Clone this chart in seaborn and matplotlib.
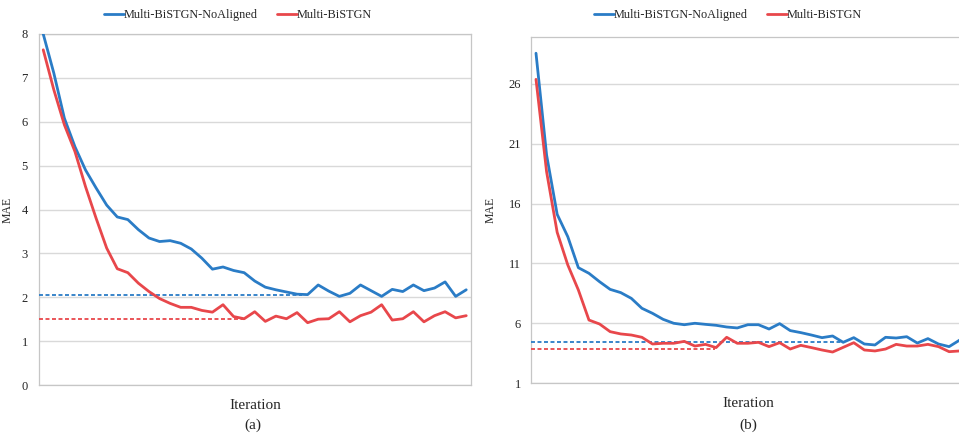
import numpy as np
import pandas as pd
import matplotlib
matplotlib.use("Agg")
import matplotlib.pyplot as plt
import seaborn as sns

# ---------------- data ----------------
series_names = ["Multi-BiSTGN-NoAligned", "Multi-BiSTGN"]

a_noaligned = [8.00, 7.11, 6.08, 5.43, 4.90, 4.49, 4.10, 3.83, 3.77, 3.54,
               3.35, 3.27, 3.29, 3.23, 3.10, 2.89, 2.64, 2.69, 2.61, 2.56,
               2.37, 2.23, 2.17, 2.12, 2.07, 2.06, 2.28, 2.14, 2.02, 2.09,
               2.28, 2.15, 2.02, 2.18, 2.13, 2.28, 2.15, 2.21, 2.35, 2.02, 2.17]
a_bistgn = [7.64, 6.73, 5.93, 5.32, 4.52, 3.80, 3.12, 2.65, 2.56, 2.32,
            2.13, 1.97, 1.86, 1.77, 1.77, 1.70, 1.66, 1.83, 1.56, 1.51,
            1.67, 1.45, 1.57, 1.51, 1.65, 1.42, 1.50, 1.51, 1.67, 1.44,
            1.58, 1.66, 1.83, 1.48, 1.51, 1.67, 1.44, 1.58, 1.67, 1.53, 1.58]
a_ref_values = [2.04, 1.51]
a_ref_ends = [24.5, 19.1]

b_noaligned = [28.55, 20.06, 15.10, 13.24, 10.65, 10.18, 9.48, 8.84, 8.57, 8.09,
               7.26, 6.84, 6.34, 6.01, 5.89, 6.01, 5.92, 5.84, 5.70, 5.62,
               5.89, 5.89, 5.53, 5.98, 5.40, 5.23, 5.03, 4.81, 4.95, 4.42,
               4.81, 4.28, 4.20, 4.84, 4.78, 4.89, 4.36, 4.73, 4.28, 4.06, 4.61]
b_bistgn = [26.37, 18.66, 13.60, 10.88, 8.79, 6.28, 5.95, 5.31, 5.12, 5.03,
            4.84, 4.28, 4.34, 4.34, 4.50, 4.11, 4.25, 3.98, 4.84, 4.34,
            4.34, 4.42, 4.06, 4.39, 3.86, 4.17, 3.98, 3.78, 3.61, 4.00,
            4.39, 3.78, 3.70, 3.86, 4.25, 4.11, 4.11, 4.25, 4.06, 3.64, 3.70]
b_ref_values = [4.42, 3.89]
b_ref_ends = [28.8, 16.9]

a_yticks = [0, 1, 2, 3, 4, 5, 6, 7, 8]
b_yticks = [1, 6, 11, 16, 21, 26]
panel_labels = ["(a)", "(b)"]
x_label = "Iteration"
y_label = "MAE"

# ---------------- style ----------------
sns.set_theme(style="white")
plt.rcParams["font.family"] = ["Liberation Serif", "DejaVu Serif"]

colors = ["#2a7cc6", "#e8474b"]
palette = dict(zip(series_names, colors))
grid_c = "#d9d9d9"
spine_c = "#c6c6c6"
text_c = "#262626"

fig = plt.figure(figsize=(9.59, 4.38), dpi=100)
ax_a = fig.add_axes([39 / 959, 1 - 385 / 438, 432 / 959, 351 / 438])
ax_b = fig.add_axes([530.7 / 959, 1 - 383.3 / 438, 434.3 / 959, 346.6 / 438])


def make_df(s1, s2):
    n = len(s1)
    return pd.DataFrame({
        "it": list(range(n)) * 2,
        "MAE": list(s1) + list(s2),
        "model": [series_names[0]] * n + [series_names[1]] * n,
    })


def draw(ax, s1, s2, ref_vals, ref_ends, yticks, ylim, xlim, ylab_x, tickpad,
         leg_x):
    df = make_df(s1, s2)
    ax.set_xlim(*xlim)
    ax.set_ylim(*ylim)
    ax.set_yticks(yticks)
    ax.yaxis.grid(True, color=grid_c, linewidth=1.0)
    ax.set_axisbelow(True)
    for v, e, c in zip(ref_vals, ref_ends, colors):
        ref = pd.DataFrame({"it": [xlim[0], e], "MAE": [v, v]})
        sns.lineplot(data=ref, x="it", y="MAE", ax=ax, color=c,
                     linestyle=(0, (2.2, 1.4)), linewidth=1.3, zorder=3)
    sns.lineplot(data=df, x="it", y="MAE", hue="model", palette=palette,
                 ax=ax, linewidth=2.0, legend=False, zorder=4)
    ax.set_xticks([])
    for s in ax.spines.values():
        s.set_color(spine_c)
        s.set_linewidth(0.9)
    ax.tick_params(axis="y", length=0, pad=tickpad, labelsize=9, colors=text_c)
    ax.set_ylabel(y_label, fontsize=8.5, color=text_c)
    ax.yaxis.set_label_coords(ylab_x, 0.5)
    ax.set_xlabel(x_label, fontsize=11, labelpad=10, color=text_c)
    handles = [plt.Line2D([], [], color=c, linewidth=2.0) for c in colors]
    ax.legend(handles, series_names, loc="center",
              bbox_to_anchor=(leg_x, 1.0), bbox_transform=fig.transFigure,
              ncol=2, frameon=False,
              fontsize=8.8, handlelength=1.6, handletextpad=0.0,
              columnspacing=1.6, borderaxespad=0.0)


draw(ax_a, a_noaligned, a_bistgn, a_ref_values, a_ref_ends, a_yticks,
     (0, 8), (-0.4, 40.45), -0.058, 8, 238 / 959)
draw(ax_b, b_noaligned, b_bistgn, b_ref_values, b_ref_ends, b_yticks,
     (1, 29.93), (-0.5, 40.5), -0.0776, 7, 728 / 959)
ax_b.spines["right"].set_visible(False)

# move legends to the reference height
for ax, lx in ((ax_a, 238 / 959), (ax_b, 728 / 959)):
    ax.get_legend().set_bbox_to_anchor((lx, 1 - 15 / 438), transform=fig.transFigure)

fig.text(253 / 959, 1 - 425 / 438, panel_labels[0], ha="center", va="center",
         fontsize=11, color=text_c)
fig.text(748 / 959, 1 - 425 / 438, panel_labels[1], ha="center", va="center",
         fontsize=11, color=text_c)

fig.savefig("out.png", dpi=100)
